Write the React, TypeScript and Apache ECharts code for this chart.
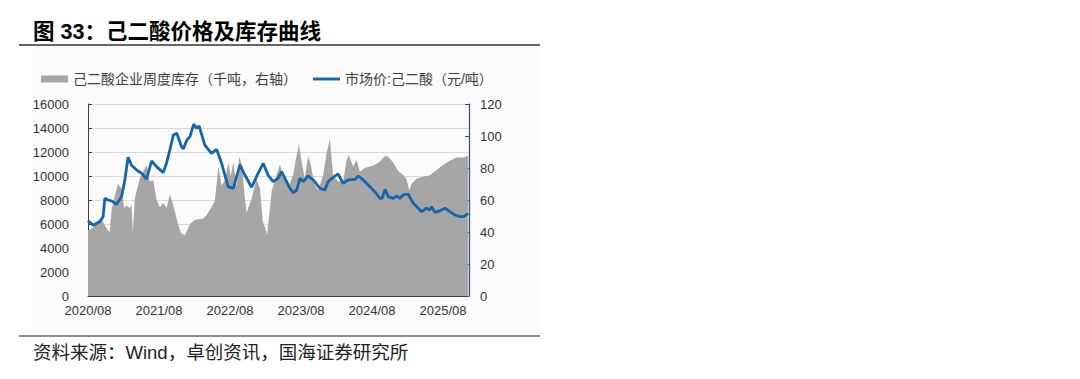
import React, { useEffect, useRef } from "react";
import * as echarts from "echarts";

// x-axis tick labels (one per year, at August)
const xTickLabels = ["2020/08", "2021/08", "2022/08", "2023/08", "2024/08", "2025/08"];
const axisStartDate = "2020-08-01";
const axisEndDate = "2025-12-13";

// 市场价:己二酸（元/吨） — left axis
const priceDates = [
  "2020-08-01", "2020-08-28", "2020-10-01", "2020-10-18", "2020-10-27", "2020-11-13", "2020-12-03", "2020-12-26",
  "2021-01-22", "2021-02-08", "2021-02-25", "2021-03-12", "2021-04-08", "2021-05-03", "2021-05-29", "2021-06-24",
  "2021-07-19", "2021-08-23", "2021-09-10", "2021-09-27", "2021-10-14", "2021-11-01", "2021-11-26", "2021-12-04",
  "2021-12-23", "2022-01-08", "2022-01-28", "2022-02-12", "2022-02-25", "2022-03-24", "2022-04-28", "2022-05-24",
  "2022-06-19", "2022-07-22", "2022-08-18", "2022-09-22", "2022-10-17", "2022-11-21", "2022-12-24", "2023-01-20",
  "2023-02-14", "2023-03-10", "2023-04-05", "2023-04-23", "2023-05-10", "2023-06-05", "2023-06-22", "2023-07-09",
  "2023-07-26", "2023-08-12", "2023-09-07", "2023-10-03", "2023-11-07", "2023-12-02", "2023-12-19", "2024-01-14",
  "2024-02-09", "2024-03-05", "2024-03-31", "2024-05-05", "2024-05-22", "2024-06-17", "2024-07-21", "2024-08-16",
  "2024-09-11", "2024-09-23", "2024-10-07", "2024-10-24", "2024-11-19", "2024-12-06", "2024-12-23", "2025-01-09",
  "2025-02-04", "2025-02-21", "2025-03-01", "2025-03-26", "2025-04-13", "2025-05-08", "2025-05-25", "2025-06-03",
  "2025-06-20", "2025-07-16", "2025-08-11", "2025-09-06", "2025-10-02", "2025-10-27", "2025-11-17", "2025-12-09",
];
const priceValues = [
  6280, 5900, 6200, 6600, 8140, 8000, 7900, 7640,
  8280, 9670, 11560, 10900, 10500, 10220, 9750, 11250,
  10780, 10280, 11110, 12170, 13420, 13560, 12440, 12250,
  13000, 13280, 14330, 13970, 14170, 12580, 11890, 12220,
  11060, 9110, 8970, 10920, 10080, 9060, 10220, 11060,
  10080, 9530, 9810, 10360, 9810, 8970, 8610, 8830,
  9810, 9530, 10000, 9670, 8970, 8830, 9530, 9890,
  10170, 9390, 9670, 9720, 10000, 9670, 9110, 8690,
  8140, 8140, 8890, 8280, 8140, 8330, 8140, 8420,
  8500, 8000, 7720, 7310, 7030, 7310, 7170, 7440,
  6970, 7110, 7310, 7030, 6750, 6610, 6610, 6890,
];

// 己二酸企业周度库存（千吨，右轴） — right axis
const stockDates = [
  "2020-08-01", "2020-08-20", "2020-09-15", "2020-10-10", "2020-10-27", "2020-11-13", "2020-11-22", "2020-12-01",
  "2020-12-18", "2021-01-04", "2021-01-22", "2021-02-04", "2021-02-17", "2021-03-03", "2021-03-12", "2021-03-19",
  "2021-03-29", "2021-04-24", "2021-05-11", "2021-05-29", "2021-06-15", "2021-07-02", "2021-07-19", "2021-08-06",
  "2021-08-23", "2021-09-10", "2021-09-27", "2021-10-14", "2021-11-09", "2021-11-26", "2021-12-13", "2022-01-08",
  "2022-02-03", "2022-03-16", "2022-04-03", "2022-04-20", "2022-05-05", "2022-05-15", "2022-06-02", "2022-06-19",
  "2022-07-06", "2022-07-23", "2022-08-05", "2022-08-18", "2022-09-05", "2022-09-18", "2022-10-01", "2022-10-17",
  "2022-10-26", "2022-11-21", "2022-12-16", "2023-01-03", "2023-01-17", "2023-02-10", "2023-03-02", "2023-03-28",
  "2023-04-14", "2023-05-01", "2023-05-27", "2023-06-22", "2023-07-09", "2023-07-21", "2023-08-04", "2023-08-21",
  "2023-09-07", "2023-09-21", "2023-10-08", "2023-10-29", "2023-11-24", "2023-12-11", "2023-12-28", "2024-01-14",
  "2024-02-09", "2024-03-05", "2024-03-23", "2024-04-04", "2024-04-26", "2024-05-13", "2024-05-30", "2024-06-25",
  "2024-07-21", "2024-08-16", "2024-09-11", "2024-10-07", "2024-10-24", "2024-11-19", "2024-12-15", "2025-01-09",
  "2025-01-27", "2025-02-10", "2025-02-22", "2025-03-18", "2025-04-21", "2025-05-25", "2025-06-29", "2025-08-02",
  "2025-09-06", "2025-10-10", "2025-11-14", "2025-12-09",
];
const stockValues = [
  41, 42, 45, 48.5, 44, 41, 40, 54,
  63, 70, 67, 55, 56.5, 55, 57, 39,
  61, 73.5, 77.7, 82, 71.5, 72.5, 60, 55.5,
  58, 55, 63.5, 56.5, 44, 39, 38, 45,
  47.5, 48.5, 50.6, 54, 57, 60, 81, 69,
  72.5, 83.5, 75, 83.5, 68.5, 87, 82, 61,
  52, 61, 73, 67, 47, 38.5, 65.5, 75.6,
  82, 75.6, 68, 75.6, 88, 94.5, 84, 73.5,
  87.5, 82, 70, 66, 75.6, 89, 98, 75.6,
  71.5, 72, 85, 88, 81, 85, 77.7, 80,
  81, 82, 84, 87.5, 87, 83.5, 78, 75.6,
  73, 66, 70, 73.5, 74.5, 75.5, 78.8, 82,
  84.5, 86.5, 86.5, 87.5,
];

const leftTicks = { min: 0, max: 16000, interval: 2000 };
const rightTicks = { min: 0, max: 120, interval: 20 };

const titleText = "图 33：己二酸价格及库存曲线";
const sourceText = "资料来源：Wind，卓创资讯，国海证券研究所";
const stockName = "己二酸企业周度库存（千吨，右轴）";
const priceName = "市场价:己二酸（元/吨）";

const FONT = '"Liberation Sans", Arial, "Noto Sans CJK SC", sans-serif';
const BLUE = "#1665a8";
const GRAY = "#a6a6a6";

function toMonths(s: string): number {
  const [y, m, d] = s.split("-").map(Number);
  return (y - 2020) * 12 + (m - 8) + (d - 1) / 31;
}

export default function App() {
  const ref = useRef<HTMLDivElement>(null);

  useEffect(() => {
    if (!ref.current) return;
    const chart = echarts.init(ref.current, undefined, { renderer: "svg" });
    const priceData = priceDates.map((d, i) => [toMonths(d), priceValues[i]]);
    const stockData = stockDates.map((d, i) => [toMonths(d), stockValues[i]]);
    const axisLabelStyle = { color: "#333333", fontSize: 13, fontFamily: FONT };

    chart.setOption({
      animation: false,
      backgroundColor: "#ffffff",
      grid: { left: 88, right: 611, top: 104, bottom: 83, containLabel: false },
      legend: {
        left: 36,
        top: 67,
        itemWidth: 27,
        itemHeight: 7,
        itemGap: 16,
        textStyle: { color: "#404040", fontSize: 14, fontFamily: FONT },
        data: [
          { name: stockName, icon: "rect", itemStyle: { color: GRAY } },
          {
            name: priceName,
            icon: "path://M0,0L30,0L30,3.2L0,3.2Z",
            itemStyle: { color: BLUE },
          },
        ],
      },
      xAxis: {
        type: "value",
        min: toMonths(axisStartDate),
        max: toMonths(axisEndDate),
        interval: 12,
        axisLine: { show: true, lineStyle: { color: "#404040", width: 1 } },
        axisTick: { show: true, inside: true, length: 4, lineStyle: { color: "#404040" } },
        splitLine: { show: false },
        axisLabel: {
          ...axisLabelStyle,
          margin: 8,
          showMaxLabel: false,
          formatter: (v: number) => xTickLabels[Math.round(v / 12)] ?? "",
        },
      },
      yAxis: [
        {
          type: "value",
          position: "left",
          ...leftTicks,
          axisLine: { show: true, lineStyle: { color: "#404040", width: 1 } },
          axisTick: { show: true, inside: true, length: 4, lineStyle: { color: "#404040" } },
          splitLine: { show: true, lineStyle: { color: "#d9d9d9", width: 1 } },
          axisLabel: { ...axisLabelStyle, margin: 19, formatter: (v: number) => String(v) },
        },
        {
          type: "value",
          position: "right",
          ...rightTicks,
          axisLine: { show: true, lineStyle: { color: "#2f4b7c", width: 1.2 } },
          axisTick: { show: true, inside: true, length: 4, lineStyle: { color: "#2f4b7c" } },
          splitLine: { show: false },
          axisLabel: { ...axisLabelStyle, margin: 11, formatter: (v: number) => String(v) },
        },
      ],
      series: [
        {
          name: stockName,
          type: "bar",
          barWidth: 0,
          data: [],
          yAxisIndex: 1,
          itemStyle: { color: GRAY },
          silent: true,
        },
        {
          name: stockName,
          type: "line",
          yAxisIndex: 1,
          data: stockData,
          symbol: "none",
          lineStyle: { width: 0, color: GRAY },
          itemStyle: { color: GRAY },
          areaStyle: { color: GRAY, opacity: 1 },
          z: 1,
        },
        {
          name: priceName,
          type: "bar",
          barWidth: 0,
          data: [],
          itemStyle: { color: BLUE },
          silent: true,
        },
        {
          name: priceName,
          type: "line",
          yAxisIndex: 0,
          data: priceData,
          symbol: "none",
          lineStyle: { width: 2.8, color: BLUE },
          itemStyle: { color: BLUE },
          z: 3,
        },
      ],
      graphic: [
        {
          type: "rect",
          shape: { x: 31, y: 47, width: 509, height: 284 },
          style: { fill: "#fbfbfb" },
          z: -10,
          silent: true,
        },
        {
          type: "text",
          x: 33,
          y: 32,
          style: {
            text: titleText,
            fill: "#000000",
            font: `bold 21.5px ${FONT}`,
            verticalAlign: "middle",
          },
        },
        {
          type: "line",
          shape: { x1: 19, y1: 45, x2: 540, y2: 45 },
          style: { stroke: "#666666", lineWidth: 2 },
        },
        {
          type: "line",
          shape: { x1: 19, y1: 336, x2: 540, y2: 336 },
          style: { stroke: "#666666", lineWidth: 1.5 },
        },
        {
          type: "text",
          x: 33,
          y: 352,
          style: {
            text: sourceText,
            fill: "#222222",
            font: `18.5px ${FONT}`,
            verticalAlign: "middle",
          },
        },
      ],
    });

    return () => chart.dispose();
  }, []);

  return (
    <div
      ref={ref}
      style={{ position: "fixed", left: 0, top: 0, width: 1080, height: 379 }}
    />
  );
}
